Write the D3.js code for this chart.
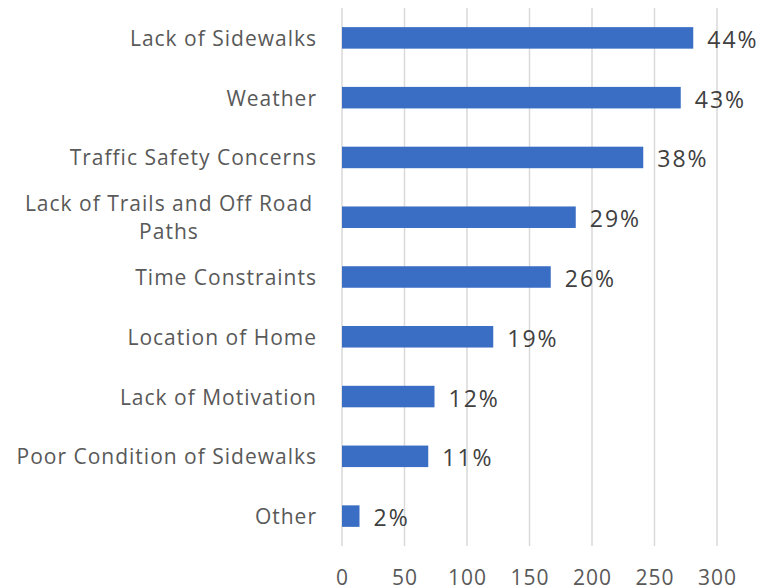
<!DOCTYPE html>
<html>
<head>
<meta charset="UTF-8">
<script src="https://d3js.org/d3.v7.min.js"></script>
<style>
  body { margin: 0; background: #fff; }
  text { font-family: "Open Sans", sans-serif; }
</style>
</head>
<body>
<svg width="767" height="588"></svg>
<script>
// barriers to walking - counts, labels are the printed percents
var categories = ["Lack of Sidewalks", "Weather", "Traffic Safety Concerns",
  "Lack of Trails and Off Road|Paths", "Time Constraints", "Location of Home",
  "Lack of Motivation", "Poor Condition of Sidewalks", "Other"];
var counts = [281, 271, 241, 187, 167, 121, 74, 69, 14];
var percents = ["44%", "43%", "38%", "29%", "26%", "19%", "12%", "11%", "2%"];
var ticks = [0, 50, 100, 150, 200, 250, 300];

var svg = d3.select("svg");
// note: "top" is taken by window.top, so plot edges get their own names
var plotLeft = 342, plotRight = 717, plotTop = 8, plotBottom = 546;

var x = d3.scaleLinear().domain([0, 300]).range([plotLeft, plotRight]);
var y = d3.scaleBand().domain(categories).range([plotTop, plotBottom]).paddingInner(0.64).paddingOuter(0.32);

// gridlines
svg.append("g").selectAll("line")
  .data(ticks)
  .enter().append("line")
  .attr("x1", function(d) { return x(d); })
  .attr("x2", function(d) { return x(d); })
  .attr("y1", plotTop).attr("y2", plotBottom)
  .attr("stroke", "#d9d9d9")
  .attr("stroke-width", 1.5);

// tick labels
svg.append("g").selectAll("text")
  .data(ticks)
  .enter().append("text")
  .attr("x", function(d) { return x(d) + 0.5; })
  .attr("y", 585)
  .attr("text-anchor", "middle")
  .attr("font-size", 21)
  .attr("letter-spacing", 1)
  .attr("fill", "#595959")
  .text(function(d) { return d; });

// bars
svg.append("g").selectAll("rect")
  .data(categories)
  .enter().append("rect")
  .attr("x", x(0))
  .attr("y", function(d) { return y(d); })
  .attr("width", function(d, i) { return x(counts[i]) - x(0); })
  .attr("height", y.bandwidth())
  .attr("fill", "#3a6ec4");

// value labels
svg.append("g").selectAll("text")
  .data(categories)
  .enter().append("text")
  .attr("x", function(d, i) { return x(counts[i]) + 14; })
  .attr("y", function(d) { return y(d) + y.bandwidth() / 2 + 10; })
  .attr("font-size", 23)
  .attr("letter-spacing", 2)
  .attr("fill", "#404040")
  .text(function(d, i) { return percents[i]; });

// category labels, wrapped ones are centred under the first line
var labelRight = 317;
svg.append("g").selectAll("text")
  .data(categories)
  .enter().append("text")
  .attr("font-size", 21)
  .attr("letter-spacing", 1)
  .attr("fill", "#595959")
  .each(function(d) {
    var t = d3.select(this);
    var lines = d.split("|");
    var cy = y(d) + y.bandwidth() / 2;
    if (lines.length == 1) {
      t.attr("x", labelRight).attr("y", cy + 8)
        .attr("text-anchor", "end")
        .text(d);
    } else {
      t.attr("text-anchor", "middle");
      var spans = lines.map(function(l, k) {
        return t.append("tspan")
          .attr("y", cy + 8 + (k - (lines.length - 1) / 2) * 28)
          .text(l);
      });
      var w = spans[0].node().getComputedTextLength();
      spans.forEach(function(s) { s.attr("x", labelRight - 4 - w / 2); });
    }
  });
</script>
</body>
</html>
